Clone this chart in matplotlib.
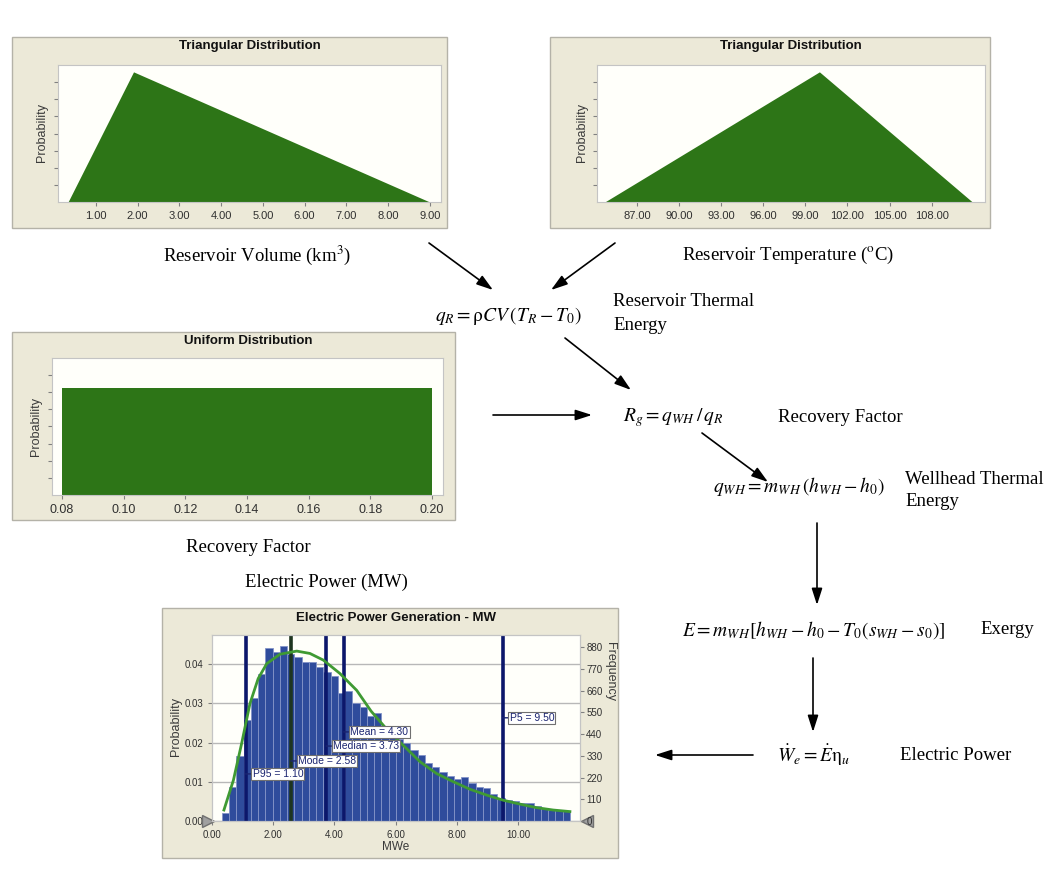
import numpy as np
import matplotlib
matplotlib.use("Agg")
import matplotlib.pyplot as plt
from matplotlib.patches import Rectangle, FancyArrowPatch

W, H = 1047, 883

# input distributions: (min, mode, max)
vol_tri = [0.33, 1.9, 9.0]          # reservoir volume, km3
temp_tri = [84.7, 100.0, 110.9]     # reservoir temperature, deg C
rf_range = [0.08, 0.20]             # recovery factor, uniform
vol_ticks = [1, 2, 3, 4, 5, 6, 7, 8, 9]
temp_ticks = [87, 90, 93, 96, 99, 102, 105, 108]
rf_ticks = [0.08, 0.10, 0.12, 0.14, 0.16, 0.18, 0.20]

# simulated electric power (MWe) histogram
bin_start = 0.32
bin_width = 0.237
power_prob = [0.0021, 0.0087, 0.0166, 0.0257, 0.0313, 0.0374, 0.0442, 0.0431,
              0.0447, 0.0425, 0.0419, 0.0406, 0.0406, 0.0393, 0.0380, 0.0370,
              0.0327, 0.0331, 0.0300, 0.0290, 0.0267, 0.0274, 0.0240, 0.0225,
              0.0210, 0.0198, 0.0181, 0.0168, 0.0147, 0.0138, 0.0126, 0.0115,
              0.0108, 0.0113, 0.0096, 0.0087, 0.0083, 0.0070, 0.0058, 0.0053,
              0.0052, 0.0045, 0.0047, 0.0037, 0.0032, 0.0028, 0.0028, 0.0025]
fit_x = [0.39, 0.70, 0.97, 1.24, 1.51, 1.79, 2.22, 2.77, 3.20, 3.64, 4.18,
         4.73, 5.20, 5.70, 6.25, 6.80, 7.34, 7.89, 8.43, 8.98, 9.52, 10.07,
         10.61, 11.15, 11.70]
fit_p = [0.0028, 0.0104, 0.0198, 0.0299, 0.0363, 0.0401, 0.0425, 0.0433,
         0.0427, 0.0410, 0.0376, 0.0333, 0.0280, 0.0235, 0.0193, 0.0151,
         0.0121, 0.0100, 0.0081, 0.0066, 0.0053, 0.0043, 0.0034, 0.0028, 0.0024]
stat_names = ["P95", "Mode", "Median", "Mean", "P5"]
stat_values = [1.10, 2.58, 3.73, 4.30, 9.50]
stat_label_y = [0.0120, 0.0153, 0.0191, 0.0227, 0.0263]
power_ticks = [0, 2, 4, 6, 8, 10]
prob_ticks = [0.00, 0.01, 0.02, 0.03, 0.04]
freq_ticks = [0, 110, 220, 330, 440, 550, 660, 770, 880]
freq_per_prob = 19880

FRAME = "#ece9d8"
PLOT_BG = "#fffffa"
GREEN = "#2d7517"
SANS = "Liberation Sans"
SERIF = "Liberation Serif"

plt.rcParams["mathtext.fontset"] = "stix"
plt.rcParams["font.family"] = SERIF

fig = plt.figure(figsize=(W / 100, H / 100), dpi=100)


def fx(x):
    return x / W


def fy(y):
    return 1 - y / H


def frame(x0, y0, x1, y1):
    fig.add_artist(Rectangle((fx(x0), fy(y1)), fx(x1) - fx(x0), fy(y0) - fy(y1),
                             transform=fig.transFigure, facecolor=FRAME,
                             edgecolor="#b4b2a8", lw=1, zorder=-1))


def inner(x0, y0, x1, y1, tsize=8):
    ax = fig.add_axes([fx(x0), fy(y1), fx(x1) - fx(x0), fy(y0) - fy(y1)])
    ax.set_facecolor(PLOT_BG)
    for s in ax.spines.values():
        s.set_color("#c4c4c4")
    ax.tick_params(colors="#808080", labelcolor="#303030", labelsize=tsize,
                   length=3, width=0.8)
    return ax


def sans_labels(ax):
    for lab in ax.get_xticklabels() + ax.get_yticklabels():
        lab.set_family(SANS)


def title(x, y, s):
    fig.text(fx(x), fy(y), s, ha="center", va="center", family=SANS,
             fontsize=9.5, fontweight="bold", color="#111111")


def ylab(x, y, s, rot=90):
    fig.text(fx(x), fy(y), s, ha="center", va="center", family=SANS,
             fontsize=9, rotation=rot, color="#3a3a3a")


def tri_panel(outer, box, tri, ticks, xlim, title_xy, ylab_xy):
    frame(*outer)
    ax = inner(*box)
    a, c, b = tri
    peak = 2 / (b - a)
    ax.fill_between([a, c, b], [0, peak, 0], color=GREEN, lw=0)
    ax.set_xlim(xlim)
    top = peak / 0.95
    ax.set_ylim(0, top)
    ax.set_yticks(np.arange(1, 8) * top / 8)
    ax.set_yticklabels([])
    ax.set_xticks(ticks)
    ax.set_xticklabels([f"{t:.2f}" for t in ticks])
    sans_labels(ax)
    title(*title_xy, "Triangular Distribution")
    ylab(*ylab_xy, "Probability")
    return ax


# reservoir volume
tri_panel((12, 37, 447, 228), (58, 65, 441, 202), vol_tri, vol_ticks,
          (0.09, 9.27), (250, 46), (42, 132))
# reservoir temperature
tri_panel((550, 37, 990, 228), (597, 65, 985, 202), temp_tri, temp_ticks,
          (84.15, 111.8), (791, 46), (582, 132))

# recovery factor (uniform)
frame(12, 332, 455, 520)
ax3 = inner(52, 358, 443, 495, tsize=9)
lo, hi = rf_range
dens = 1 / (hi - lo)
ax3.fill_between([lo, hi], [dens, dens], color=GREEN, lw=0)
top3 = dens / 0.78
ax3.set_xlim(0.0768, 0.2036)
ax3.set_ylim(0, top3)
ax3.set_yticks(np.arange(1, 8) * top3 / 8)
ax3.set_yticklabels([])
ax3.set_xticks(rf_ticks)
ax3.set_xticklabels([f"{t:.2f}" for t in rf_ticks])
sans_labels(ax3)
title(248, 341, "Uniform Distribution")
ylab(36, 427, "Probability")

# electric power histogram
frame(162, 608, 618, 858)
ax4 = inner(212, 635, 580, 821, tsize=7)
ax4.set_axisbelow(True)
ax4.grid(axis="y", color="#b8b8b8", lw=1)
edges = bin_start + bin_width * np.arange(len(power_prob))
ax4.bar(edges, power_prob, width=bin_width, align="edge", color="#2f4c9c",
        edgecolor="#8494c8", lw=0.6)
for name, v, ly in zip(stat_names, stat_values, stat_label_y):
    col = "#1e3520" if name == "Mode" else "#0c176b"
    ax4.axvline(v, color=col, lw=2.6)
    ax4.annotate(f"{name} = {v:.2f}", xy=(v, ly), xytext=(5, 0),
                 textcoords="offset points", ha="left", va="center",
                 family=SANS, fontsize=7.5, color="#1a2470",
                 bbox=dict(boxstyle="square,pad=0.12", fc="white", ec="#707070", lw=0.8),
                 arrowprops=dict(arrowstyle="-", color="#1a2470", lw=1,
                                 shrinkA=0, shrinkB=0))
ax4.plot(fit_x, fit_p, color="#3f9a33", lw=2)
ax4.set_xlim(0, 12.03)
ax4.set_ylim(0, 0.0474)
ax4.set_xticks(power_ticks)
ax4.set_xticklabels([f"{t:.2f}" for t in power_ticks])
ax4.set_yticks(prob_ticks)
ax4.set_yticklabels([f"{t:.2f}" for t in prob_ticks])
sans_labels(ax4)
ax4r = ax4.twinx()
ax4r.set_ylim(0, 0.0474 * freq_per_prob)
ax4r.set_yticks(freq_ticks)
ax4r.tick_params(colors="#808080", labelcolor="#303030", labelsize=7,
                 length=3, pad=1.5)
for lab in ax4r.get_yticklabels():
    lab.set_family(SANS)
for s in ax4r.spines.values():
    s.set_color("#c4c4c4")
ax4.plot([-0.13], [0], marker=">", ms=9, color="#a0a0a0", mec="#707070",
         clip_on=False, zorder=5)
ax4.plot([12.25], [0], marker="<", ms=9, color="#a0a0a0", mec="#707070",
         clip_on=False, zorder=5)
title(396, 618, "Electric Power Generation - MW")
ylab(176, 727, "Probability")
ylab(610, 672, "Frequency", rot=-90)
fig.text(fx(396), fy(847), "MWe", ha="center", va="center", family=SANS,
         fontsize=8.5, color="#3a3a3a")

# flow-chart text
TS = 13.5
MS = 14
fig.text(fx(257), fy(255), "Reservoir Volume (km$^{3}$)", ha="center", va="center", fontsize=TS)
fig.text(fx(788), fy(255), "Reservoir Temperature ($^{\\mathrm{o}}$C)", ha="center", va="center", fontsize=TS)
fig.text(fx(435), fy(316), r"$q_R = \mathrm{\rho} CV\,(T_R - T_0)$", ha="left", va="center", fontsize=MS)
fig.text(fx(613), fy(302), "Reservoir Thermal", ha="left", va="center", fontsize=TS)
fig.text(fx(613), fy(325), "Energy", ha="left", va="center", fontsize=TS)
fig.text(fx(623), fy(418), r"$R_g = q_{WH}\,/\,q_R$", ha="left", va="center", fontsize=MS)
fig.text(fx(778), fy(418), "Recovery Factor", ha="left", va="center", fontsize=TS)
fig.text(fx(713), fy(487), r"$q_{WH} = m_{WH}\,(h_{WH} - h_0)$", ha="left", va="center", fontsize=MS)
fig.text(fx(905), fy(480), "Wellhead Thermal", ha="left", va="center", fontsize=TS)
fig.text(fx(905), fy(502), "Energy", ha="left", va="center", fontsize=TS)
fig.text(fx(682), fy(630), r"$E = m_{WH}[h_{WH} - h_0 - T_0(s_{WH} - s_0)]$", ha="left", va="center", fontsize=MS)
fig.text(fx(980), fy(630), "Exergy", ha="left", va="center", fontsize=TS)
fig.text(fx(777), fy(755), r"$\dot{W}_e = \dot{E}\mathrm{\eta}_u$", ha="left", va="center", fontsize=MS)
fig.text(fx(900), fy(755), "Electric Power", ha="left", va="center", fontsize=TS)
fig.text(fx(248), fy(547), "Recovery Factor", ha="center", va="center", fontsize=TS)
fig.text(fx(326), fy(582), "Electric Power (MW)", ha="center", va="center", fontsize=TS)

arrows = [((429, 243), (493, 290)), ((615, 243), (551, 290)),
          ((565, 338), (631, 390)), ((493, 415), (592, 415)),
          ((702, 433), (768, 482)), ((817, 523), (817, 605)),
          ((813, 658), (813, 732)), ((753, 755), (655, 755))]
for (x0, y0), (x1, y1) in arrows:
    fig.add_artist(FancyArrowPatch((fx(x0), fy(y0)), (fx(x1), fy(y1)),
                                   transform=fig.transFigure,
                                   arrowstyle="-|>,head_length=0.5,head_width=0.16",
                                   mutation_scale=20, color="black", lw=1.2,
                                   shrinkA=0, shrinkB=0))

fig.savefig("out.png", dpi=100)
